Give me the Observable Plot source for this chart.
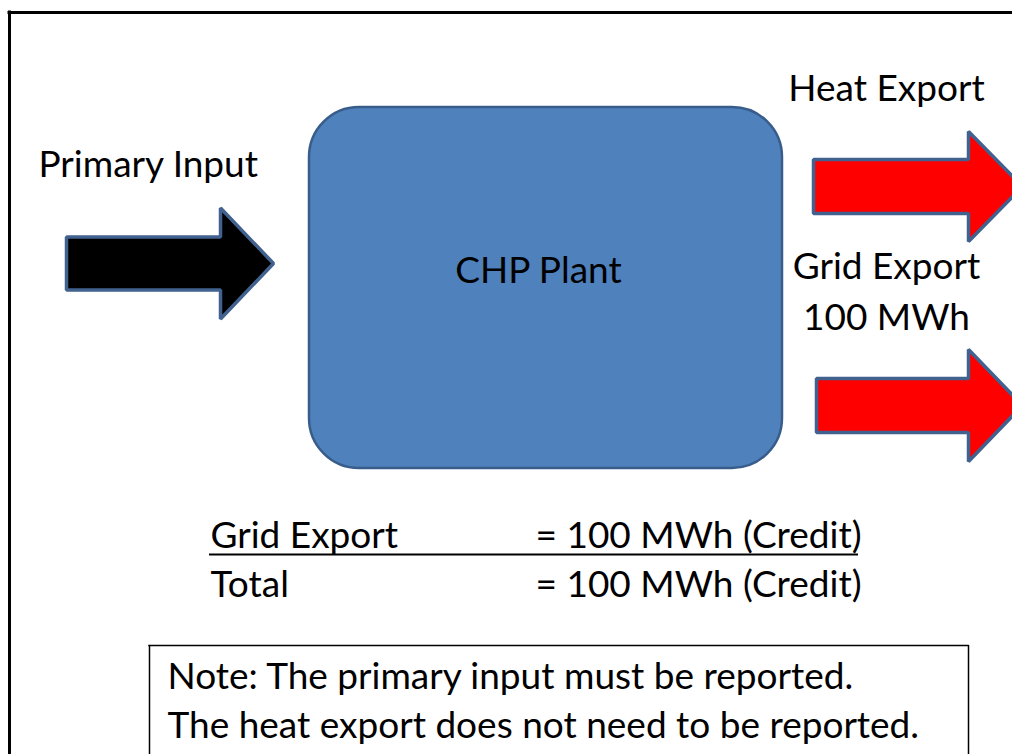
<!DOCTYPE html>
<html>
<head>
<meta charset="utf-8">
<script src="https://cdn.jsdelivr.net/npm/d3@7"></script>
<script src="https://cdn.jsdelivr.net/npm/@observablehq/plot@0.6"></script>
<style>
  html, body { margin: 0; padding: 0; background: #fff; overflow: hidden; }
  #chart svg { display: block; overflow: hidden; }
</style>
</head>
<body>
<div id="chart"></div>
<script>
// ---- Data (content) ----
const plantLabel = "CHP Plant";
const flowNames = ["Primary Input", "Heat Export", "Grid Export"];
const flowKinds = ["input", "output", "output"];
const flowValues = [null, null, 100];            // MWh, only grid export is quantified
const unit = "MWh";
const summaryLabels = ["Grid Export", "Total"];
const summaryValues = [100, 100];
const summaryTags = ["Credit", "Credit"];
const noteLines = [
  "Note: The primary input must be reported.",
  "The heat export does not need to be reported."
];

// ---- Layout (positions, sizes, styles) ----
const W = 1012, H = 754;
const FONT = "Lato, 'Open Sans', sans-serif";
const FS = 37;
const plantBox = {x1: 309, y1: 107, x2: 782, y2: 468, r: 50};
const arrowGeom = [
  {x0: 66,  xh: 220, xt: 273,  yc: 263, sh: 26.5, hh: 55.5, fill: "#000000"},
  {x0: 813, xh: 968, xt: 1022, yc: 186, sh: 27,   hh: 55,   fill: "#ff0000"},
  {x0: 816, xh: 968, xt: 1022, yc: 405, sh: 27,   hh: 56,   fill: "#ff0000"}
];
const flowLabelPos = [
  {x: 38,  y: 176, anchor: "start"},
  {x: 886, y: 100, anchor: "middle"},
  {x: 886, y: 278, anchor: "middle"}
];

// Build arrow polygons from the flow list + geometry
const arrowPts = flowNames.flatMap((name, i) => {
  const g = arrowGeom[i];
  return [
    [g.x0, g.yc - g.sh], [g.xh, g.yc - g.sh], [g.xh, g.yc - g.hh], [g.xt, g.yc],
    [g.xh, g.yc + g.hh], [g.xh, g.yc + g.sh], [g.x0, g.yc + g.sh]
  ].map(([x, y]) => ({name, x, y}));
});

// Flow labels (with value line if quantified)
const flowText = flowNames.map((name, i) => ({
  name, text: name, ...flowLabelPos[i]
}));
const flowValueText = flowNames
  .map((name, i) => flowValues[i] == null ? null :
    ({text: `${flowValues[i]} ${unit}`, x: flowLabelPos[i].x, y: flowLabelPos[i].y + 51, anchor: flowLabelPos[i].anchor}))
  .filter(d => d);

const summaryRows = summaryLabels.map((label, i) => ({
  label, value: `= ${summaryValues[i]} ${unit} (${summaryTags[i]})`,
  y: 547 + i * 49
}));
const noteRows = noteLines.map((t, i) => ({text: t, y: 688 + i * 49}));

const arrowMarks = flowNames.map((name, i) =>
  Plot.line(arrowPts.filter(d => d.name === name), {
    x: "x", y: "y", curve: "linear-closed",
    fill: arrowGeom[i].fill, stroke: "#41628f", strokeWidth: 3.5, strokeLinejoin: "miter"
  })
);

const textOpts = {x: "x", y: "y", text: "text", fontSize: FS, lineAnchor: "bottom", fill: "#000"};

const plot = Plot.plot({
  width: W, height: H, margin: 0,
  x: {domain: [0, W], range: [0, W], axis: null},
  y: {domain: [0, H], range: [0, H], axis: null},
  style: {fontFamily: FONT, background: "#fff"},
  marks: [
    // outer frame: only top and left edges are inside the picture
    Plot.ruleY([12], {x1: 7.5, x2: W, stroke: "#000", strokeWidth: 3}),
    Plot.ruleX([9], {y1: 10.5, y2: H, stroke: "#000", strokeWidth: 3}),
    // plant
    Plot.rect([{label: plantLabel}], {x1: () => plantBox.x1, x2: () => plantBox.x2, y1: () => plantBox.y1, y2: () => plantBox.y2,
      rx: plantBox.r, fill: "#4f81bd", stroke: "#385d8a", strokeWidth: 2.5}),
    Plot.text([plantLabel], {x: 538, y: 282, text: d => d, fontSize: FS, lineAnchor: "bottom", fill: "#000"}),
    // arrows
    ...arrowMarks,
    // flow labels
    Plot.text(flowText.filter(d => d.anchor === "start"), {...textOpts, textAnchor: "start"}),
    Plot.text(flowText.filter(d => d.anchor === "middle"), {...textOpts, textAnchor: "middle"}),
    Plot.text(flowValueText, {...textOpts, textAnchor: "middle"}),
    // summary
    Plot.text(summaryRows, {x: 210, y: "y", text: "label", textAnchor: "start", fontSize: FS, lineAnchor: "bottom", fill: "#000"}),
    Plot.text(summaryRows, {x: 535, y: "y", text: "value", textAnchor: "start", fontSize: FS, lineAnchor: "bottom", fill: "#000"}),
    Plot.ruleY([554], {x1: 209, x2: 858, stroke: "#000", strokeWidth: 2}),
    // note box: top, left and right edges (bottom lies below the picture)
    Plot.ruleY([645], {x1: 148.25, x2: 968.75, stroke: "#000", strokeWidth: 1.5}),
    Plot.ruleX([149, 968], {y1: 645, y2: H, stroke: "#000", strokeWidth: 1.5}),
    Plot.text(noteRows, {x: 167, y: "y", text: "text", textAnchor: "start", fontSize: FS, lineAnchor: "bottom", fill: "#000"})
  ]
});
document.getElementById("chart").appendChild(plot);
</script>
</body>
</html>
